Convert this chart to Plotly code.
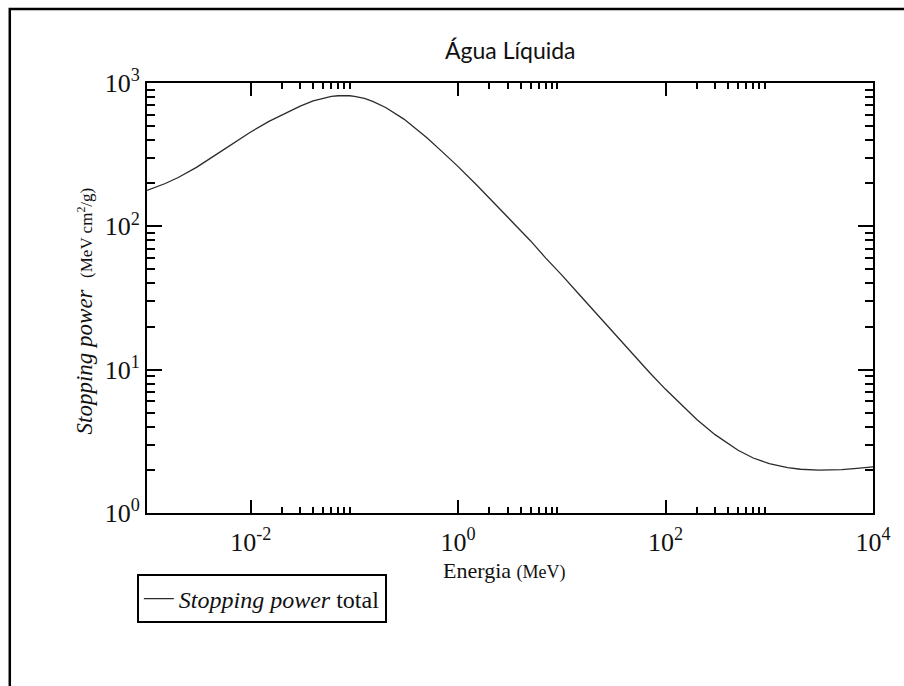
import plotly.graph_objects as go

# Total stopping power of protons in liquid water
energia_mev = [0.001, 0.0015, 0.002, 0.003, 0.005, 0.007, 0.01, 0.015, 0.02, 0.03,
               0.04, 0.05, 0.06, 0.07, 0.08, 0.09, 0.1, 0.125, 0.15, 0.2,
               0.3, 0.4, 0.5, 0.7, 1, 1.5, 2, 3, 5, 7,
               10, 15, 20, 30, 50, 70, 100, 150, 200, 300,
               500, 700, 1000, 1500, 2000, 3000, 5000, 7000, 10000]
stopping_total = [178, 199, 219, 258, 328, 384, 455, 540, 600, 690,
                  750, 785, 806, 815, 818, 815, 808, 780, 745, 675,
                  560, 475, 415, 332, 261, 195, 157, 115, 79.1, 60.0,
                  45.7, 32.9, 26.1, 18.8, 12.45, 9.56, 7.29, 5.44, 4.49, 3.52,
                  2.74, 2.42, 2.21, 2.07, 2.02, 1.99, 2.01, 2.05, 2.10]

x_major = [1e-2, 1e0, 1e2, 1e4]
x_major_text = ["10<sup>-2</sup>", "10<sup>0</sup>", "10<sup>2</sup>", "10<sup>4</sup>"]
x_minor = [m * d for d in (1e-2, 1e0, 1e2) for m in range(2, 10)]
y_major = [1, 10, 100, 1000]
y_major_text = ["10<sup>0</sup>", "10<sup>1</sup>", "10<sup>2</sup>", "10<sup>3</sup>"]
y_minor = [m * d for d in (1, 10, 100) for m in range(2, 10)]

serif = "Liberation Serif, Times New Roman, serif"

fig = go.Figure()
fig.add_trace(go.Scatter(
    x=energia_mev, y=stopping_total, mode="lines",
    line=dict(color="#2b2b2b", width=1.3),
    name="<i>Stopping power</i> total",
))

axis_common = dict(
    type="log", showgrid=False, zeroline=False,
    showline=True, linecolor="black", linewidth=2, mirror="allticks",
    ticks="inside", tickcolor="black", tickwidth=1.5,
    tickfont=dict(family=serif, size=26, color="#111"),
)

fig.update_xaxes(
    **axis_common, range=[-3, 4],
    tickmode="array", tickvals=x_major, ticktext=x_major_text, ticklen=13,
    ticklabelstandoff=5,
    minor=dict(tickmode="array", tickvals=x_minor, ticks="inside", ticklen=6,
               tickcolor="black", tickwidth=1.5),
)
fig.update_yaxes(
    **axis_common, range=[0, 3],
    tickmode="array", tickvals=y_major, ticktext=y_major_text, ticklen=15,
    minor=dict(tickmode="array", tickvals=y_minor, ticks="inside", ticklen=8,
               tickcolor="black", tickwidth=1.5),
)

fig.add_annotation(
    text="Água Líquida", xref="paper", yref="paper", x=0.5, y=1.077,
    xanchor="center", yanchor="middle", showarrow=False,
    font=dict(family="Lato, Open Sans, sans-serif", size=23, color="#111"),
)
fig.add_annotation(
    text="Energia <span style='font-size:18px'>(MeV)</span>",
    xref="paper", yref="paper", x=0.493, y=-0.134,
    xanchor="center", yanchor="middle", showarrow=False,
    font=dict(family=serif, size=22, color="#111"),
)
fig.add_annotation(
    text="<i>Stopping power</i>  <span style='font-size:17px'>(MeV cm<sup>2</sup>/g)</span>",
    xref="paper", yref="paper", x=-0.086, y=0.47, textangle=-90,
    xanchor="center", yanchor="middle", showarrow=False,
    font=dict(family=serif, size=23, color="#111"),
)

# outer frame around the figure
fig.add_shape(
    type="rect", xref="paper", yref="paper",
    x0=-0.189, x1=1.1, y0=-0.6, y1=1.172,
    line=dict(color="black", width=2.5), layer="below",
)

fig.update_layout(
    width=904, height=686,
    margin=dict(l=147, r=31, t=83, b=173),
    paper_bgcolor="white", plot_bgcolor="white",
    showlegend=True,
    legend=dict(
        x=-0.014, y=-0.143, xanchor="left", yanchor="top",
        bordercolor="black", borderwidth=2, bgcolor="white",
        font=dict(family=serif, size=24, color="#111"),
        itemwidth=30,
    ),
)

fig.write_html("out.html")
